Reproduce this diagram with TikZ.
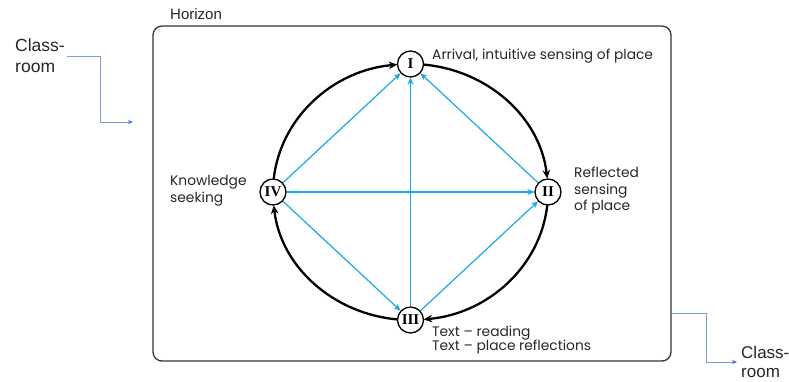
\documentclass[tikz,border=0pt]{standalone}
\usepackage{fontspec}
\setmainfont{Poppins}
\newfontfamily\arialfont{Liberation Sans}
\newfontfamily\numfont{Liberation Serif}
\usetikzlibrary{arrows.meta}
\definecolor{skyline}{HTML}{1AA7EC}
\definecolor{linkblue}{HTML}{7E9ED8}
\definecolor{linkhead}{HTML}{4472C4}
\definecolor{framegray}{HTML}{333333}
\begin{document}
\begin{tikzpicture}[x=1pt,y=1pt,
  stage/.style={circle,draw=black,line width=1.3pt,minimum size=26pt,inner sep=0pt,
    font=\numfont\bfseries\fontsize{15}{15}\selectfont},
  cycle/.style={line width=2.3pt,draw=black,-{Stealth[length=8.5pt,width=7.5pt]}},
  cross/.style={line width=1.2pt,draw=skyline,-{Stealth[length=7pt,width=6pt]}},
  link/.style={line width=0.8pt,draw=linkblue,-{Stealth[length=5pt,width=4pt,color=linkhead]}},
  caption/.style={align=left,inner sep=0pt,text=black!85},
  side/.style={align=left,font=\arialfont\fontsize{17.5}{21}\selectfont,text=black!85},
  oval/.style={x radius=137.5,y radius=128}
]
\useasboundingbox (0,0) rectangle (789,381);

% outer frame
\node[draw=framegray,line width=1.3pt,rounded corners=9pt,minimum width=518pt,
  minimum height=335pt,inner sep=0pt] (frame) at (412,187.5) {};
\node[anchor=west,inner sep=0pt,font=\arialfont\fontsize{15}{16}\selectfont,text=black!85]
  (horizon) at (170,367) {Horizon};

% the four stages on an ellipse around the hub
\coordinate (hub) at (410.5,189);
\node[stage] (I)   at (410.5,317) {I};
\node[stage] (II)  at (548,189)   {II};
\node[stage] (III) at (410.5,61)  {III};
\node[stage] (IV)  at (273,189)   {IV};

% captions
\node[caption,anchor=west,font=\fontsize{13.8}{16}\selectfont] (capI) at (432,325)
  {Arrival, intuitive sensing of place};
\node[caption,anchor=west,font=\fontsize{13.8}{16.5}\selectfont] (capII) at (574,190)
  {Reflected\\sensing\\of place};
\node[caption,anchor=west,font=\fontsize{13.8}{17}\selectfont] (capIV) at (170,190)
  {Knowledge\\seeking};
\node[caption,anchor=west,font=\fontsize{13.8}{14.5}\selectfont] (capIII) at (432,41)
  {Text -- reading\\Text -- place reflections};

% outer cycle IV -> I -> II -> III -> IV
\draw[cycle] (hub) ++(174:137.5 and 128) arc[start angle=174,end angle=95.5,oval];
\draw[cycle] (hub) ++(84.5:137.5 and 128) arc[start angle=84.5,end angle=6,oval];
\draw[cycle] (hub) ++(-6:137.5 and 128)  arc[start angle=-6,end angle=-84.5,oval];
\draw[cycle] (hub) ++(-95.5:137.5 and 128) arc[start angle=-95.5,end angle=-174,oval];

% inner connections
\draw[cross] (IV)  -- (I);
\draw[cross] (IV)  -- (II);
\draw[cross] (IV)  -- (III);
\draw[cross] (III) -- (I);
\draw[cross] (III) -- (II);
\draw[cross] (II)  -- (I);

% classroom links
\node[side,anchor=east,inner sep=2pt] (roomin) at (67,325) {Class-\\room};
\coordinate (entry) at (133,259);
\draw[link] (roomin.east) -- ++(33,0) |- (entry);

\node[side,anchor=west,inner sep=4pt,font=\arialfont\fontsize{17}{19}\selectfont]
  (roomout) at (737,19) {Class-\\room};
\coordinate (exit) at (frame.east |- 0,68);
\draw[link] (exit) -- ++(35,0) |- (roomout.west);
\end{tikzpicture}
\end{document}
